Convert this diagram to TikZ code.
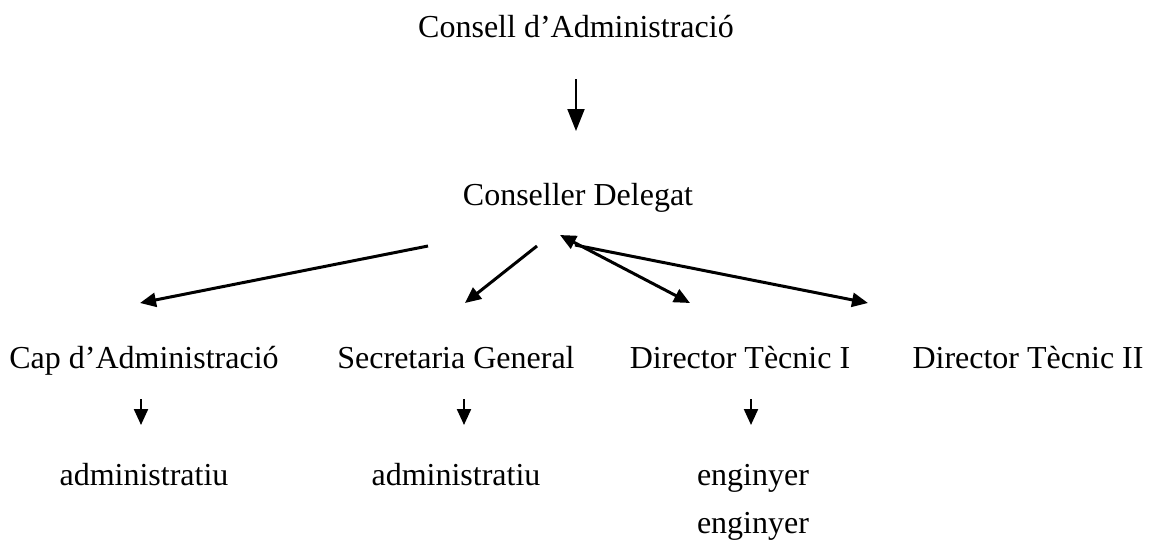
\documentclass[tikz,border=0pt]{standalone}
\usepackage{fontspec}
\setmainfont{Liberation Serif}
\usetikzlibrary{arrows.meta}

\begin{document}
\begin{tikzpicture}[x=0.5pt,y=-0.5pt,
  every node/.style={font=\fontsize{16}{19}\selectfont,anchor=base,inner sep=0pt},
  link/.style={line width=1.5pt,-{Triangle[length=8pt,width=7pt]}},
  downlink/.style={line width=1.1pt,-{Triangle[length=8pt,width=7pt]}},
  toplink/.style={line width=1pt,-{Triangle[length=11pt,width=8.5pt]}}]
  \useasboundingbox (0,0) rectangle (1152,541);

  % THE BOARD
  \node (consell) at (576,37) {Consell d’Administració};
  \node (delegat) at (578,205) {Conseller Delegat};
  % MANAGERS
  \node (capadm) at (144,368) {Cap d’Administració};
  \node (secgen) at (456,368) {Secretaria General};
  \node (dtecI) at (740,368) {Director Tècnic I};
  \node (dtecII) at (1028,368) {Director Tècnic II};
  % STAFF
  \node (admA) at (144,485) {administratiu};
  \node (admB) at (456,485) {administratiu};
  \node (engA) at (753,485) {enginyer};
  \node (engB) at (753,533) {enginyer};

  % arrow ends
  \coordinate (boardA) at (576,79);
  \coordinate (boardB) at (576,131);
  \coordinate (fanL) at (428,246);
  \coordinate (fanM) at (537,246);
  \coordinate (fanH) at (560,235);
  \coordinate (fanR) at (575,245);
  \coordinate (capT) at (140,303);
  \coordinate (secT) at (465,303);
  \coordinate (dtIT) at (690,303);
  \coordinate (dtIIT) at (868,303);
  \coordinate (capA) at (141,399);
  \coordinate (capB) at (141,425);
  \coordinate (secA) at (464,399);
  \coordinate (secB) at (464,425);
  \coordinate (dtA) at (751,399);
  \coordinate (dtB) at (751,425);

  \draw[toplink] (boardA) -- (boardB);
  \draw[link] (fanL) -- (capT);
  \draw[link] (fanM) -- (secT);
  \draw[link,{Triangle[length=8pt,width=7pt]}-{Triangle[length=8pt,width=7pt]}] (fanH) -- (dtIT);
  \draw[link] (fanR) -- (dtIIT);
  \draw[downlink] (capA) -- (capB);
  \draw[downlink] (secA) -- (secB);
  \draw[downlink] (dtA) -- (dtB);
\end{tikzpicture}
\end{document}
